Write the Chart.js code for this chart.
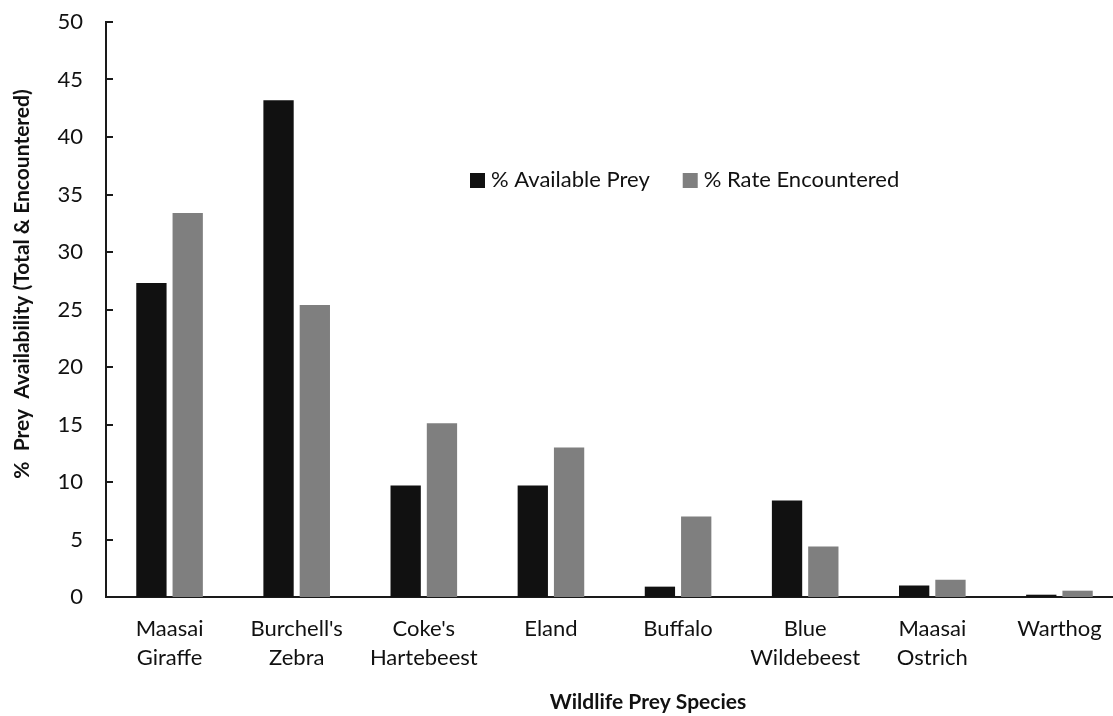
<!DOCTYPE html>
<html>
<head>
<meta charset="utf-8">
<script src="https://cdn.jsdelivr.net/npm/chart.js@4.4.1/dist/chart.umd.min.js"></script>
<style>
  html, body { margin: 0; padding: 0; background: #fff; overflow: hidden; }
  #wrap { width: 1123px; height: 716px; }
</style>
</head>
<body>
<div id="wrap"><canvas id="preyChart"></canvas></div>
<script>
// Prey species (two-line labels) and percentages per series
const species = [
    ['Maasai', 'Giraffe'],
    ["Burchell's", 'Zebra'],
    ["Coke's", 'Hartebeest'],
    ['Eland'],
    ['Buffalo'],
    ['Blue', 'Wildebeest'],
    ['Maasai', 'Ostrich'],
    ['Warthog']
];
const availablePrey = [27.3, 43.2, 9.7, 9.7, 0.9, 8.4, 1.0, 0.2];
const rateEncountered = [33.4, 25.4, 15.1, 13.0, 7.0, 4.4, 1.5, 0.55];
const yTicks = [0, 5, 10, 15, 20, 25, 30, 35, 40, 45, 50];

const FONT = 'Lato, "Open Sans", sans-serif';
const axisColor = '#1a1a1a';

// inward tick marks, legend inside the plot and the axis titles
const extrasPlugin = {
    id: 'extras',
    afterDraw(chart) {
        const ctx = chart.ctx;
        const area = chart.chartArea;
        const yScale = chart.scales.y;
        ctx.save();

        ctx.strokeStyle = axisColor;
        ctx.lineWidth = 2;
        yScale.ticks.forEach(t => {
            const py = Math.round(yScale.getPixelForValue(t.value));
            ctx.beginPath();
            ctx.moveTo(area.left, py);
            ctx.lineTo(area.left + 7, py);
            ctx.stroke();
        });

        // legend
        ctx.font = '22px ' + FONT;
        ctx.textBaseline = 'middle';
        ctx.textAlign = 'left';
        let lx = area.left + 364;
        const ly = area.top + 158;
        chart.data.datasets.forEach(ds => {
            ctx.fillStyle = ds.backgroundColor;
            ctx.fillRect(lx, ly - 7, 15, 15);
            ctx.fillStyle = '#111';
            ctx.fillText(ds.label, lx + 21, ly);
            lx += 21 + ctx.measureText(ds.label).width + 33;
        });

        // axis titles
        ctx.font = 'bold 21px ' + FONT;
        ctx.fillStyle = '#111';
        ctx.textAlign = 'center';
        ctx.fillText('Wildlife Prey Species', area.left + 542, 702);

        ctx.translate(22, area.top + 262);
        ctx.rotate(-Math.PI / 2);
        ctx.fillText('%  Prey  Availability (Total & Encountered)', 0, 0);
        ctx.restore();
    }
};

const ctx = document.getElementById('preyChart').getContext('2d');
new Chart(ctx, {
    type: 'bar',
    data: {
        labels: species,
        datasets: [
            { label: '% Available Prey', data: availablePrey, backgroundColor: '#111111' },
            { label: '% Rate Encountered', data: rateEncountered, backgroundColor: '#7f7f7f' }
        ]
    },
    options: {
        responsive: true,
        maintainAspectRatio: false,
        animation: false,
        layout: { padding: { top: 22, right: 0, bottom: 0, left: 0 } },
        datasets: {
            bar: { categoryPercentage: 0.571, barPercentage: 0.835 }
        },
        scales: {
            x: {
                grid: { display: false, drawTicks: false },
                border: { display: true, color: axisColor, width: 2 },
                ticks: {
                    color: '#111',
                    font: { family: FONT, size: 22, lineHeight: 1.3 },
                    padding: 18,
                    maxRotation: 0,
                    autoSkip: false
                },
                afterFit(scale) {
                    scale.height = 119;
                    scale.paddingLeft = 0;
                    scale.paddingRight = 0;
                }
            },
            y: {
                min: 0,
                max: 50,
                afterBuildTicks(scale) { scale.ticks = yTicks.map(v => ({ value: v })); },
                grid: { display: false, drawTicks: false },
                border: { display: true, color: axisColor, width: 2 },
                ticks: {
                    color: '#111',
                    font: { family: FONT, size: 22 },
                    padding: 23
                },
                afterFit(scale) {
                    scale.width = 106;
                    scale.paddingTop = 0;
                    scale.paddingBottom = 0;
                }
            }
        },
        plugins: {
            legend: { display: false },
            tooltip: { enabled: false }
        }
    },
    plugins: [extrasPlugin]
});
</script>
</body>
</html>
